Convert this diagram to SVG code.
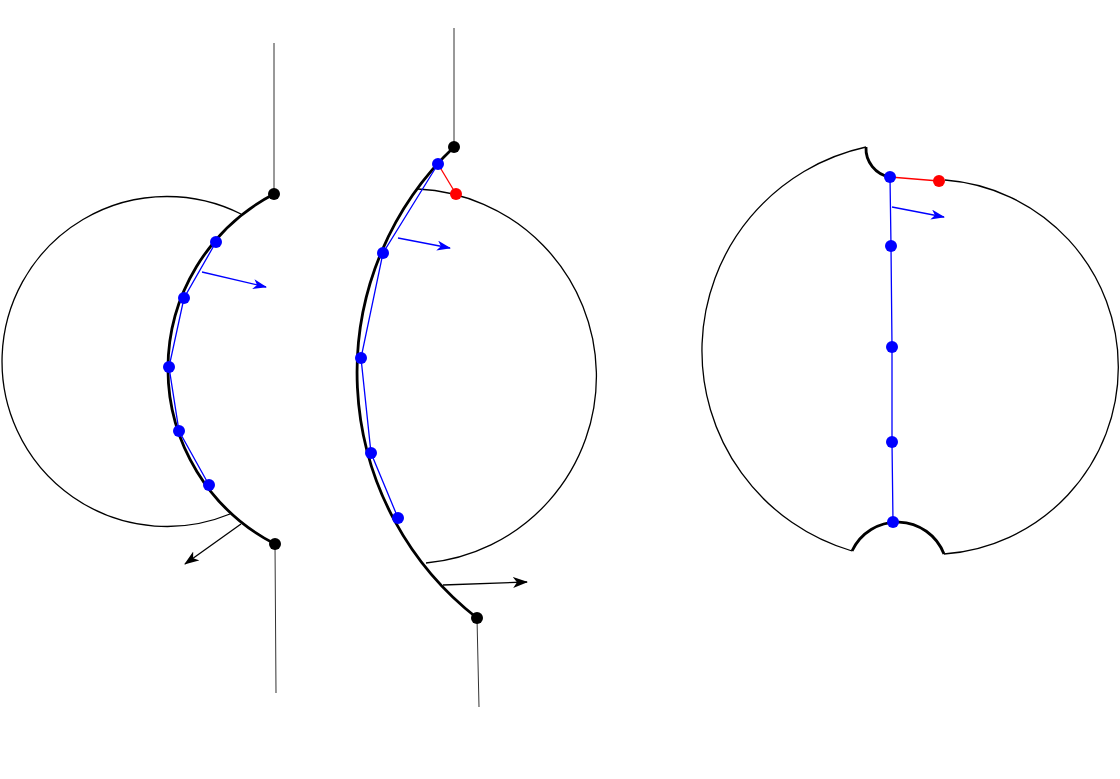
<svg xmlns="http://www.w3.org/2000/svg" width="1120" height="779" viewBox="0 0 1120 779">
<style>
.thin{fill:none;stroke:#000;stroke-width:1.3}
.thick{fill:none;stroke:#000;stroke-width:2.8}
.lead{fill:none;stroke:#333;stroke-width:1}
.bl{fill:none;stroke:#0000ff;stroke-width:1.3}
.rd{fill:none;stroke:#ff0000;stroke-width:1.3}
.bd{fill:#0000ff}
.rdd{fill:#ff0000}
.kd{fill:#000}
</style>
<defs>
<marker id="ab" markerUnits="userSpaceOnUse" markerWidth="15" markerHeight="11" refX="13" refY="5" orient="auto">
<path d="M0,0 L14,5 L0,10 L3.8,5 z" fill="#0000ff"/>
</marker>
<marker id="ak" markerUnits="userSpaceOnUse" markerWidth="16" markerHeight="12" refX="14" refY="5.5" orient="auto">
<path d="M0,0 L15,5.5 L0,11 L4,5.5 z" fill="#000"/>
</marker>
</defs>
<rect width="1120" height="779" fill="#fff"/>

<g id="fig-left">
<path class="thin" d="M241,214 A165,165 0 1 0 230,514"/>
<path class="thick" d="M274,194 A197,197 0 0 0 275,544"/>
<line class="lead" x1="274" y1="43" x2="274" y2="194"/>
<line class="lead" x1="275" y1="544" x2="276" y2="693"/>
<polyline class="bl" points="216,242 184,298 169,367 179,431 209,485"/>
<circle class="bd" cx="216" cy="242" r="6"/>
<circle class="bd" cx="184" cy="298" r="6"/>
<circle class="bd" cx="169" cy="367" r="6"/>
<circle class="bd" cx="179" cy="431" r="6"/>
<circle class="bd" cx="209" cy="485" r="6"/>
<circle class="kd" cx="274" cy="194" r="6"/>
<circle class="kd" cx="275" cy="544" r="6"/>
</g>

<g id="fig-middle">
<path class="thin" d="M418,189 A187.5,187.5 0 0 1 426,563"/>
<path class="thick" d="M454,147 A311,311 0 0 0 477,618"/>
<line class="lead" x1="454" y1="28" x2="454" y2="147"/>
<line class="lead" x1="477" y1="618" x2="479" y2="707"/>
<line class="rd" x1="438" y1="164" x2="456" y2="194"/>
<polyline class="bl" points="438,164 383,253 361,358 371,453 398,518"/>
<circle class="bd" cx="438" cy="164" r="6"/>
<circle class="bd" cx="383" cy="253" r="6"/>
<circle class="bd" cx="361" cy="358" r="6"/>
<circle class="bd" cx="371" cy="453" r="6"/>
<circle class="bd" cx="398" cy="518" r="6"/>
<circle class="rdd" cx="456" cy="194" r="6"/>
<circle class="kd" cx="454" cy="147" r="6"/>
<circle class="kd" cx="477" cy="618" r="6"/>
</g>

<g id="fig-right">
<path class="thin" d="M866,147 A208.6,208.6 0 0 0 852,551"/>
<path class="thin" d="M945,180 A187.5,187.5 0 0 1 944,554"/>
<path class="thick" d="M866,147 A29,29 0 0 0 890,177"/>
<path class="thick" d="M852,551 A50,50 0 0 1 944,554"/>
<line class="rd" x1="890" y1="177" x2="939" y2="181"/>
<polyline class="bl" points="890,177 891,246 892,347 892,442 893,522"/>
<circle class="bd" cx="890" cy="177" r="6"/>
<circle class="bd" cx="891" cy="246" r="6"/>
<circle class="bd" cx="892" cy="347" r="6"/>
<circle class="bd" cx="892" cy="442" r="6"/>
<circle class="bd" cx="893" cy="522" r="6"/>
<circle class="rdd" cx="939" cy="181" r="6"/>
</g>

<g id="connectors">
<line class="bl" x1="202" y1="272" x2="266" y2="287" marker-end="url(#ab)"/>
<line class="thin" x1="241" y1="524" x2="185" y2="564" marker-end="url(#ak)"/>
<line class="bl" x1="398" y1="238" x2="450" y2="248" marker-end="url(#ab)"/>
<line class="thin" x1="443" y1="585" x2="527" y2="582" marker-end="url(#ak)"/>
<line class="bl" x1="892" y1="207" x2="944" y2="217" marker-end="url(#ab)"/>
</g>
</svg>
